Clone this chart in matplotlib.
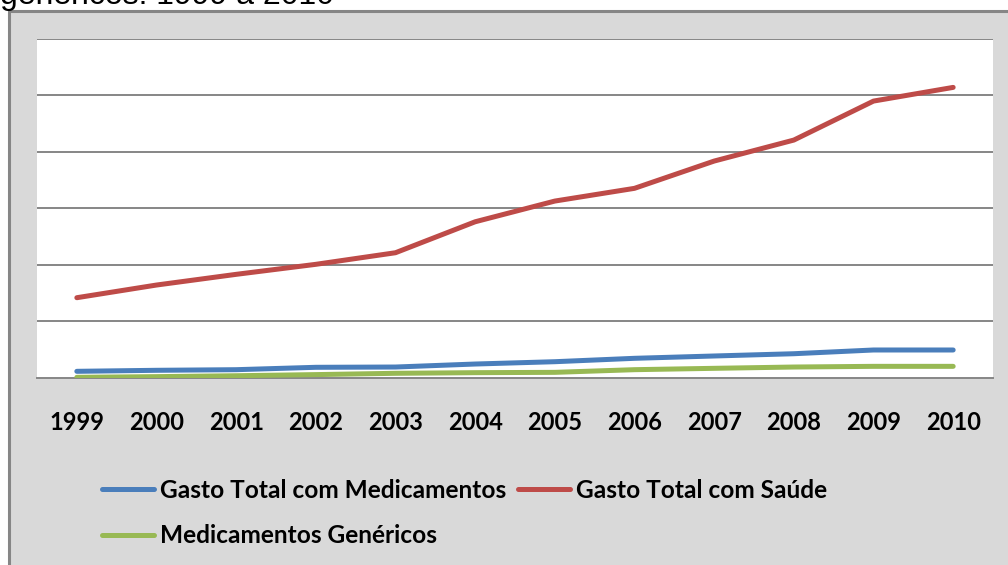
import matplotlib.pyplot as plt
from matplotlib.patches import Rectangle

# Gasto anual (unidades relativas), 1999 a 2010
anos = ["1999", "2000", "2001", "2002", "2003", "2004",
        "2005", "2006", "2007", "2008", "2009", "2010"]
gasto_medicamentos = [1.18, 1.36, 1.47, 1.89, 1.94, 2.47, 2.88, 3.48, 3.89, 4.29, 4.95, 4.95]
gasto_saude = [14.19, 16.43, 18.32, 20.09, 22.14, 27.61, 31.27, 33.52, 38.34, 42.05, 48.94, 51.36]
genericos = [0.12, 0.24, 0.40, 0.60, 0.83, 0.94, 1.00, 1.47, 1.71, 1.94, 2.06, 2.06]

W, H = 1008, 565
fig = plt.figure(figsize=(W / 100, H / 100), dpi=100, facecolor="white")

# gray chart frame
fig.patches.append(Rectangle((9 / W, -0.1), 1.1, 1 - 11 / H + 0.1, transform=fig.transFigure,
                             facecolor="#d9d9d9", edgecolor="#868686", linewidth=2.2, zorder=-5))

# caption line cut off above the frame
fig.text(0 / W, 1 - 4 / H, "genéricos: 1999 a 2010", family="Liberation Sans",
         fontsize=23, va="baseline", ha="left")

ax = fig.add_axes([37 / W, 1 - 378 / H, 956 / W, 339.5 / H])
ax.set_facecolor("white")

x = list(range(len(anos)))
lw = 3.6
l1, = ax.plot(x, gasto_medicamentos, color="#4a7ebb", lw=lw, solid_capstyle="round",
              label="Gasto Total com Medicamentos", zorder=3)
l2, = ax.plot(x, gasto_saude, color="#be4b48", lw=lw, solid_capstyle="round",
              label="Gasto Total com Saúde", zorder=3)
l3, = ax.plot(x, genericos, color="#98b954", lw=lw, solid_capstyle="round",
              label="Medicamentos Genéricos", zorder=3)

ax.set_xlim(-0.5, len(anos) - 0.5)
ax.set_ylim(0, 60)
ax.set_yticks(range(10, 70, 10))
ax.yaxis.grid(True, color="#868686", lw=1.4)
ax.set_axisbelow(True)
ax.tick_params(axis="y", left=False, labelleft=False)
ax.set_xticks(x)
ax.set_xticklabels(anos, family="Lato", weight="bold", fontsize=17)
ax.tick_params(axis="x", length=0, pad=24)
for s in ["top", "left", "right"]:
    ax.spines[s].set_visible(False)
ax.spines["bottom"].set_color("#868686")
ax.spines["bottom"].set_linewidth(1.4)

# blue and green in the first column, red alone in the second
leg = fig.legend([l1, l3, l2], [l1.get_label(), l3.get_label(), l2.get_label()],
                 ncol=2, loc="upper left", bbox_to_anchor=(80 / W, 1 - 457 / H),
                 frameon=False, handlelength=2.12, handletextpad=0.24, columnspacing=0.5,
                 labelspacing=0.92, prop={"family": "Lato", "weight": "bold", "size": 17.6})

fig.savefig("out.png", dpi=100, facecolor=fig.get_facecolor())
